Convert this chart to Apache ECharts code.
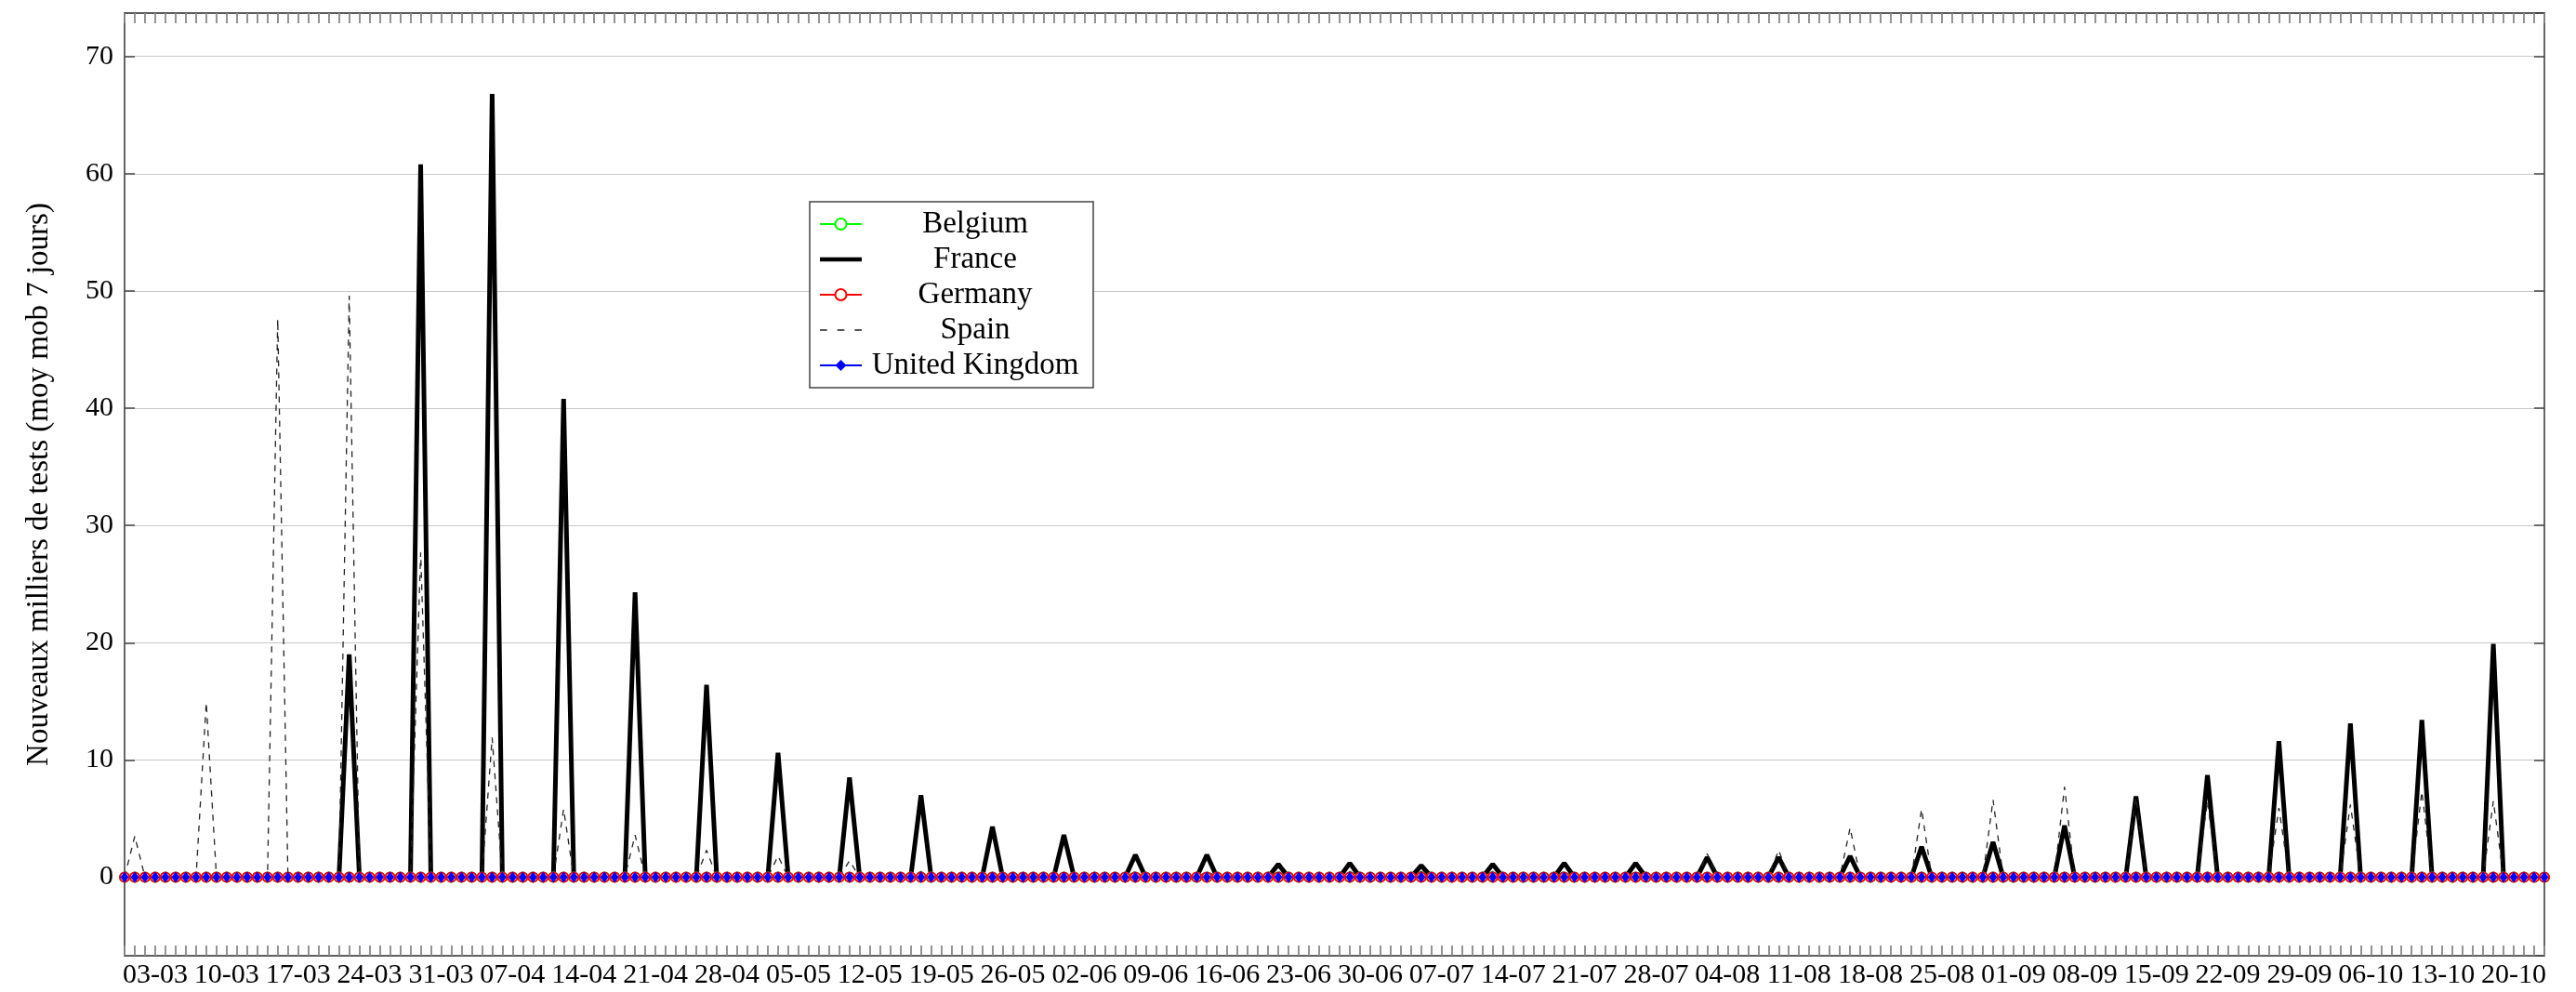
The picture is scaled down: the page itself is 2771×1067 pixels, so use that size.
<!DOCTYPE html>
<html>
<head>
<meta charset="utf-8">
<script src="https://cdn.jsdelivr.net/npm/echarts@6/dist/echarts.min.js"></script>
<style>
html,body{margin:0;padding:0;background:#fff;}
#chart{width:2771px;height:1067px;}
</style>
</head>
<body>
<div id="chart"></div>
<script>
// ---- Data ----
// Daily dates from 29-02 to 23-10 (238 days)
const startDate = Date.UTC(2020, 1, 29);
const dayCount = 238;
const categories = [];
for (let i = 0; i < dayCount; i++) {
  const d = new Date(startDate + i * 86400000);
  const dd = String(d.getUTCDate()).padStart(2, '0');
  const mm = String(d.getUTCMonth() + 1).padStart(2, '0');
  categories.push(dd + '-' + mm);
}
// Labelled ticks: 03-03, 10-03, ... 20-10
const tickLabels = ['03-03','10-03','17-03','24-03','31-03','07-04','14-04','21-04','28-04','05-05','12-05','19-05','26-05','02-06','09-06','16-06','23-06','30-06','07-07','14-07','21-07','28-07','04-08','11-08','18-08','25-08','01-09','08-09','15-09','22-09','29-09','06-10','13-10','20-10'];

// Values are non-zero only on Sundays (01-03, 08-03, ... 18-10); all other days read as 0.
const sundayDates = ['01-03','08-03','15-03','22-03','29-03','05-04','12-04','19-04','26-04','03-05','10-05','17-05','24-05','31-05','07-06','14-06','21-06','28-06','05-07','12-07','19-07','26-07','02-08','09-08','16-08','23-08','30-08','06-09','13-09','20-09','27-09','04-10','11-10','18-10'];
const franceSunday = [0, 0, 0, 19.0, 60.8, 66.8, 40.8, 24.3, 16.4, 10.6, 8.5, 7.0, 4.3, 3.6, 1.9, 1.9, 1.1, 1.2, 1.0, 1.1, 1.2, 1.2, 1.7, 1.7, 1.8, 2.6, 3.0, 4.4, 6.9, 8.7, 11.6, 13.1, 13.4, 19.9];
const spainSunday  = [3.5, 14.9, 47.6, 49.6, 27.7, 11.9, 5.8, 3.6, 2.3, 1.8, 1.4, 0.5, 0.3, 0.3, 0.5, 0.5, 0.5, 0.5, 0.5, 0.5, 0.5, 0.5, 2.0, 2.3, 4.2, 5.8, 6.6, 7.7, 6.8, 6.5, 5.9, 6.2, 7.3, 6.5];
// Belgium, Germany and United Kingdom sit at 0 every day
const belgiumValue = 0;
const germanyValue = 0;
const ukValue = 0;

function dailyFromSundays(sundayValues) {
  return categories.map(c => {
    const k = sundayDates.indexOf(c);
    return k >= 0 ? sundayValues[k] : 0;
  });
}
const france = dailyFromSundays(franceSunday);
const spain = dailyFromSundays(spainSunday);
const belgium = categories.map(() => belgiumValue);
const germany = categories.map(() => germanyValue);
const uk = categories.map(() => ukValue);

// ---- Chart ----
const FONT = '"Liberation Serif", "DejaVu Serif", serif';
const chart = echarts.init(document.getElementById('chart'), null, {renderer: 'canvas'});
const yMin = -6.7, yMax = 73.7;

function frameLine() { return {show: true, onZero: false, lineStyle: {color: '#333', width: 1.5}}; }
function dayTick() { return {show: true, inside: true, length: 11, interval: 0, lineStyle: {color: '#888', width: 1.8}}; }
function valueTick() { return {show: true, inside: true, length: 11, lineStyle: {color: '#444', width: 1.5}}; }

const option = {
  animation: false,
  backgroundColor: '#fff',
  grid: {
    left: 134, right: 34, top: 14, bottom: 39,
    show: false
  },
  legend: {
    orient: 'vertical',
    left: 871, top: 217,
    padding: [5, 10, 5, 10],
    itemGap: 0,
    itemWidth: 45,
    itemHeight: 15,
    borderColor: '#444',
    borderWidth: 1.5,
    backgroundColor: '#fff',
    selectedMode: false,
    data: [
      {name: 'Belgium'},
      {name: 'France', icon: 'path://M0,0H45V4.5H0Z'},
      {name: 'Germany'},
      {name: 'Spain', icon: 'path://M0,0H7V1.3H0Z M17,0H24V1.3H17Z M34,0H41V1.3H34Z'},
      {name: 'United Kingdom'}
    ],
    formatter: name => '{a|' + name + '}',
    textStyle: {
      fontFamily: FONT, fontSize: 33, color: '#000', lineHeight: 38,
      rich: {a: {width: 234, height: 38, align: 'center', fontFamily: FONT, fontSize: 33, lineHeight: 38, color: '#000'}}
    }
  },
  xAxis: [{
    type: 'category',
    data: categories,
    boundaryGap: false,
    position: 'bottom',
    axisLine: frameLine(),
    axisTick: dayTick(),
    axisLabel: {
      interval: (idx, val) => tickLabels.indexOf(val) >= 0,
      fontFamily: FONT, fontSize: 30, color: '#000', margin: 6,
      hideOverlap: false
    },
    splitLine: {show: false}
  }, {
    type: 'category',
    data: categories,
    boundaryGap: false,
    position: 'top',
    axisLine: frameLine(),
    axisTick: dayTick(),
    axisLabel: {show: false},
    splitLine: {show: false}
  }],
  yAxis: [{
    type: 'value',
    min: yMin, max: yMax,
    splitNumber: 8,
    position: 'left',
    name: 'Nouveaux milliers de tests (moy mob 7 jours)',
    nameLocation: 'middle',
    nameGap: 75,
    nameTextStyle: {fontFamily: FONT, fontSize: 33, color: '#000'},
    axisLine: frameLine(),
    axisTick: valueTick(),
    axisLabel: {
      fontFamily: FONT, fontSize: 30, color: '#000', margin: 12,
      showMinLabel: false, showMaxLabel: false,
      formatter: v => (Math.abs(v % 10) < 1e-6 ? String(Math.round(v)) : '')
    },
    splitLine: {show: true, lineStyle: {color: '#c8c8c8', width: 1.2}}
  }, {
    type: 'value',
    min: yMin, max: yMax,
    splitNumber: 8,
    position: 'right',
    axisLine: frameLine(),
    axisTick: valueTick(),
    axisLabel: {show: false},
    splitLine: {show: false}
  }],
  series: [
    {
      name: 'Belgium', type: 'line', data: belgium,
      symbol: 'emptyCircle', symbolSize: 10, showAllSymbol: true,
      color: '#00ff00',
      itemStyle: {color: '#00ff00', borderColor: '#00ff00', borderWidth: 1.2},
      lineStyle: {color: '#00ff00', width: 1.2}
    },
    {
      name: 'France', type: 'line', data: france,
      symbol: 'none', color: '#000',
      itemStyle: {color: '#000'},
      lineStyle: {color: '#000', width: 5, join: 'bevel'}
    },
    {
      name: 'Germany', type: 'line', data: germany,
      symbol: 'emptyCircle', symbolSize: 10, showAllSymbol: true,
      color: '#ff0000',
      itemStyle: {color: '#ff0000', borderColor: '#ff0000', borderWidth: 1.2},
      lineStyle: {color: '#ff0000', width: 1.2}
    },
    {
      name: 'Spain', type: 'line', data: spain,
      symbol: 'none', color: '#222',
      itemStyle: {color: '#222'},
      lineStyle: {color: '#222', width: 1.3, type: [6.5, 6.5]}
    },
    {
      name: 'United Kingdom', type: 'line', data: uk,
      symbol: 'diamond', symbolSize: [9, 12], showAllSymbol: true,
      color: '#0000ff',
      itemStyle: {color: '#0000ff'},
      lineStyle: {color: '#0000ff', width: 1.2}
    }
  ]
};
chart.setOption(option);
</script>
</body>
</html>
